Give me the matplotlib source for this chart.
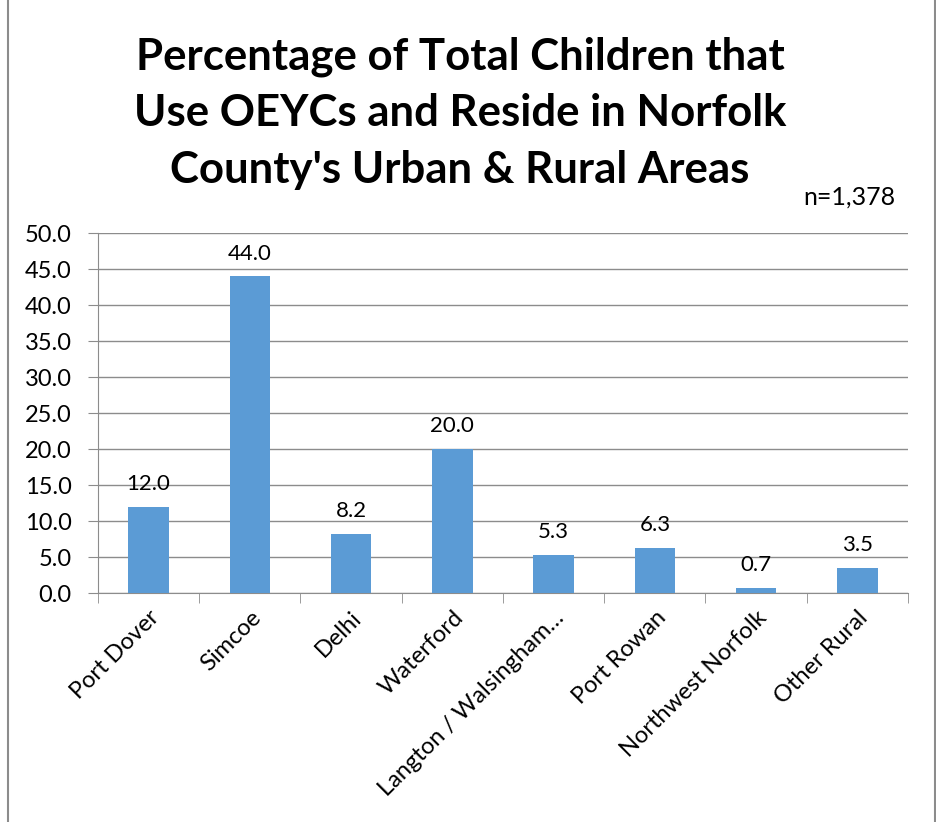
import matplotlib.pyplot as plt
from matplotlib.patches import Rectangle

areas = ['Port Dover', 'Simcoe', 'Delhi', 'Waterford', 'Langton / Walsingham…',
         'Port Rowan', 'Northwest Norfolk', 'Other Rural']
percent = [12.0, 44.0, 8.2, 20.0, 5.3, 6.3, 0.7, 3.5]

plt.rcParams['font.family'] = ['Lato', 'DejaVu Sans']

fig = plt.figure(figsize=(9.37, 8.22), dpi=100)
ax = fig.add_axes([98 / 937, 1 - 593 / 822, 810 / 937, 360 / 822])

x = list(range(len(areas)))
bars = ax.bar(x, percent, width=0.4, color='#5B9BD5', zorder=3)
for b, v in zip(bars, percent):
    ax.annotate(f'{v:.1f}', (b.get_x() + b.get_width() / 2, v),
                xytext=(0, 9), textcoords='offset points',
                ha='center', va='bottom', fontsize=16)

ax.set_xlim(-0.5, len(areas) - 0.5)
ax.set_ylim(0, 50)
ax.set_yticks(range(0, 51, 5))
ax.set_yticklabels([f'{t:.1f}' for t in range(0, 51, 5)], fontsize=17)
ax.yaxis.grid(True, color='#8c8c8c', linewidth=1, zorder=0)
ax.tick_params(axis='y', length=7, color='#8c8c8c', pad=12)

ax.set_xticks(x)
ax.set_xticklabels(areas, rotation=45, ha='right', rotation_mode='anchor', fontsize=17)
ax.tick_params(axis='x', length=0, pad=10)
ax.set_xticks([i - 0.5 for i in range(len(areas) + 1)], minor=True)
ax.tick_params(axis='x', which='minor', length=7, color='#8c8c8c')

for side in ['top', 'right']:
    ax.spines[side].set_visible(False)
for side in ['left', 'bottom']:
    ax.spines[side].set_color('#8c8c8c')

fig.text(460 / 937, 1 - 113 / 822,
         "Percentage of Total Children that\nUse OEYCs and Reside in Norfolk\nCounty's Urban & Rural Areas",
         ha='center', va='center', fontsize=31.5, fontweight='bold', linespacing=1.5)
fig.text(895 / 937, 1 - 197 / 822, 'n=1,378', ha='right', va='center', fontsize=18)

fig.patches.append(Rectangle((8 / 937, -0.1), 927 / 937, 1.2, transform=fig.transFigure,
                             fill=False, edgecolor='#8c8c8c', linewidth=1.5))

fig.savefig('out.png', dpi=100)
